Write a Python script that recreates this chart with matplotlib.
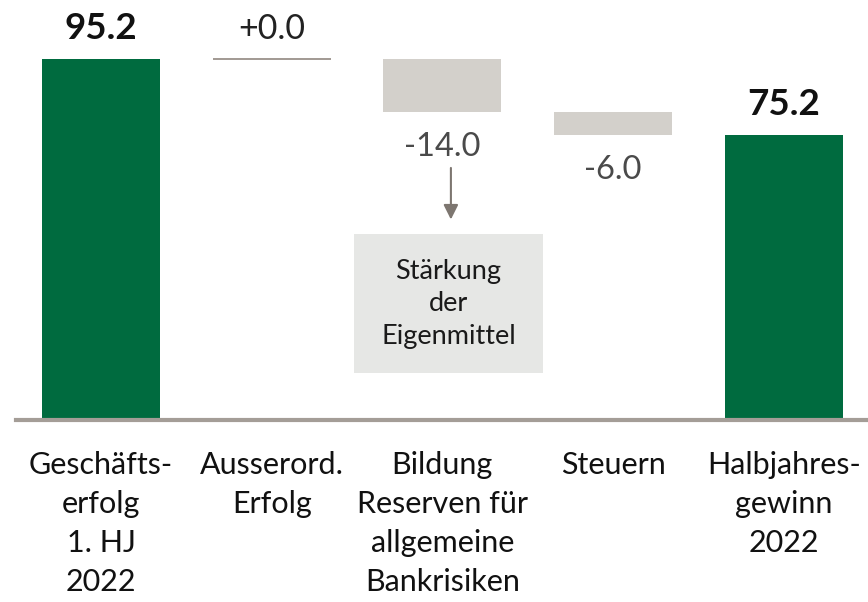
import matplotlib
matplotlib.use("Agg")
import matplotlib.pyplot as plt
import numpy as np
from matplotlib.patches import Rectangle

# Werte (Mio. CHF)
categories = ["Geschäfts-\nerfolg\n1. HJ\n2022", "Ausserord.\nErfolg",
              "Bildung\nReserven für\nallgemeine\nBankrisiken", "Steuern",
              "Halbjahres-\ngewinn\n2022"]
start_value = 95.2
changes = [0.0, -14.0, -6.0]
end_value = 75.2
value_labels = ["95.2", "+0.0", "-14.0", "-6.0", "75.2"]
note_text = "Stärkung\nder\nEigenmittel"

green = "#006b3f"
grey_bar = "#d3d0cb"
base_col = "#a49d97"
arrow_col = "#7d7670"
box_col = "#e6e7e5"

plt.rcParams['font.family'] = ['Lato', 'DejaVu Sans']

fig = plt.figure(figsize=(8.68, 6.02), dpi=100)
ax = fig.add_axes([0, 0, 1, 1])
ax.set_xlim(-0.592, 4.494)
ax.set_ylim(-48, 110.8)
ax.axis('off')

x = np.arange(len(categories))
w = 0.691

# Wasserfall
levels = start_value + np.cumsum(changes)
prev = np.concatenate([[start_value], levels[:-1]])

ax.bar(x[0], start_value, width=w, color=green)
ax.bar(x[-1], end_value, width=w, color=green)
for i, (c, p, l) in enumerate(zip(changes, prev, levels), start=1):
    if c == 0:
        ax.hlines(l, x[i] - w / 2, x[i] + w / 2, color="#9a918a", lw=1.3)
    else:
        ax.bar(x[i], l - p, bottom=p, width=w, color=grey_bar)

# Wertbeschriftungen
ax.annotate(value_labels[0], (x[0], start_value), xytext=(0, 14.5),
            textcoords='offset points', ha='center', va='baseline',
            fontsize=26.5, fontweight='bold', color='#111111')
ax.annotate(value_labels[-1], (x[-1], end_value), xytext=(0, 14.5),
            textcoords='offset points', ha='center', va='baseline',
            fontsize=26.5, fontweight='bold', color='#111111')
for i, (c, p, l) in enumerate(zip(changes, prev, levels), start=1):
    if c >= 0:
        ax.annotate(value_labels[i], (x[i], l), xytext=(0, 14.5),
                    textcoords='offset points', ha='center', va='baseline',
                    fontsize=24.5, color='#222222')
    else:
        ax.annotate(value_labels[i], (x[i], l), xytext=(0, -31.7),
                    textcoords='offset points', ha='center', va='baseline',
                    fontsize=23.5, color='#4a4a4a')

# Nullinie
ax.axhline(0, xmin=0.018, xmax=1, color=base_col, lw=3)

# Kategorien
for xi, lab in zip(x, categories):
    ax.annotate(lab, (xi, 0), xytext=(0, -22.5), textcoords='offset points',
                ha='center', va='top', fontsize=22, linespacing=1.47,
                color='#111111')

# Hinweisbox mit Pfeil
ax.add_patch(Rectangle((1.482, 12.4), 1.107, 36.7, color=box_col, lw=0))
ax.text(2.036, 30.7, note_text, ha='center', va='center', fontsize=19.5,
        linespacing=1.38, color='#1a1a1a')
ax.annotate('', xy=(2.05, 52.9), xytext=(2.05, 66.5),
            arrowprops=dict(arrowstyle='-|>', color=arrow_col, lw=1.5,
                            mutation_scale=22, shrinkA=0, shrinkB=0))

fig.savefig("out.png", dpi=100)
